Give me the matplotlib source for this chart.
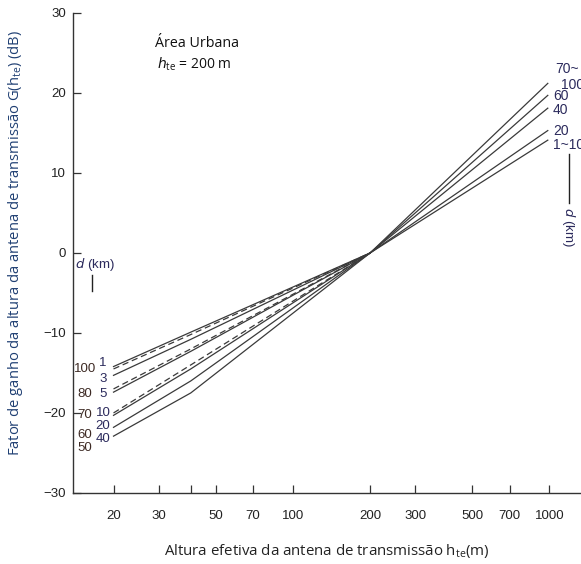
import matplotlib
matplotlib.use("Agg")
import matplotlib.pyplot as plt
import matplotlib.ticker as mticker

# h_te (m) at the knots of each curve
h_left = [20, 40, 200]
h_right = [200, 985]

# left half, solid curves, gain in dB at h_left
d_solid = ["1", "3", "5", "10", "20", "40"]
g_solid = [
    [-14.2, -9.9, 0],
    [-15.3, -10.8, 0],
    [-17.4, -12.3, 0],
    [-20.3, -14.5, 0],
    [-21.8, -16.0, 0],
    [-22.9, -17.5, 0],
]
# left half, dashed curves
d_dash = ["100", "80", "70"]
g_dash = [
    [-14.5, -10.2, 0],
    [-17.0, -12.0, 0],
    [-20.0, -14.0, 0],
]
# right half
d_right = ["1~10", "20", "40", "60", "70~100"]
g_right = [
    [0, 14.1],
    [0, 15.3],
    [0, 18.1],
    [0, 19.7],
    [0, 21.2],
]

xticks = [20, 30, 40, 50, 70, 100, 200, 300, 500, 700, 1000]
xticklabels = ["20", "30", "", "50", "70", "100", "200", "300", "500", "700", "1000"]
yticks = [-30, -20, -10, 0, 10, 20, 30]

fig = plt.figure(figsize=(5.81, 5.64), dpi=100)
ax = fig.add_axes([0.1256, 0.126, 0.8744, 0.851])

lc = "#3a3a3a"
for g in g_solid:
    ax.plot(h_left, g, color=lc, lw=0.9)
for g in g_dash:
    ax.plot(h_left, g, color=lc, lw=0.9, ls=(0, (5, 3)))
for g in g_right:
    ax.plot(h_right, g, color=lc, lw=0.9)

ax.set_xscale("log")
ax.set_xlim(13.9, 1327)
ax.set_ylim(-30, 30)
ax.set_xticks(xticks)
ax.set_xticklabels(xticklabels)
ax.xaxis.set_minor_locator(mticker.NullLocator())
ax.set_yticks(yticks)
ax.set_yticklabels([str(v).replace("-", "\u2212") for v in yticks])

for s in ["top", "right"]:
    ax.spines[s].set_visible(False)
for s in ["left", "bottom"]:
    ax.spines[s].set_color("#333333")
    ax.spines[s].set_linewidth(1.0)

tfont = ["Liberation Sans Narrow", "Liberation Sans"]
ax.tick_params(direction="in", length=6, width=0.9, color="#333333",
               labelsize=9.5, labelcolor="#222222")
ax.tick_params(axis="x", pad=12)
ax.tick_params(axis="y", pad=5)
for lab in ax.get_xticklabels() + ax.get_yticklabels():
    lab.set_fontfamily(tfont)

ax.set_ylabel("Fator de ganho da altura da antena de transmissão G(h$_{\\mathregular{te}}$) (dB)",
              fontsize=10.6, color="#1f3f73", fontfamily="Open Sans")
ax.yaxis.set_label_coords(-0.094, 0.52)
ax.set_xlabel("Altura efetiva da antena de transmissão h$_{\\mathregular{te}}$(m)",
              fontsize=10.8, color="#222222", fontfamily="Open Sans", labelpad=15)

ax.text(29.1, 26.2, "Área Urbana", fontsize=10.3, fontfamily="Open Sans", color="#111111",
        va="center")
ax.text(29.5, 23.6, "$h_{\\mathregular{te}}$ = 200 m", fontsize=10, fontfamily="Open Sans",
        color="#111111", va="center")

# curve labels, left side
nc = "#2b2a5c"
bc = "#3d2a24"
tr = ax.get_yaxis_transform()
for lab, y in zip(["1", "3", "5", "10", "20", "40"], [-13.8, -15.7, -17.6, -20.0, -21.6, -23.3]):
    ax.text(0.059, y, lab, transform=tr, fontsize=9.5, color=nc, fontfamily=tfont,
            va="center", ha="center")
for lab, y in zip(["100", "80", "70", "60", "50"], [-14.5, -17.6, -20.2, -22.7, -24.4]):
    ax.text(0.0236, y, lab, transform=tr, fontsize=9.5, color=bc, fontfamily=tfont,
            va="center", ha="center")
ax.text(0.004, -1.4, "$d$ (km)", transform=tr, fontsize=9.5, color=nc, fontfamily=tfont,
        va="center", ha="left")
ax.plot([0.037, 0.037], [-2.8, -4.8], transform=tr, color="#222222", lw=1.0, clip_on=False)

# curve labels, right side
for lab, y in zip(["1~10", "20", "40", "60"], [13.5, 15.3, 17.9, 19.6]):
    ax.text(1033, y, lab, fontsize=10, color=nc, fontfamily=tfont, va="center", ha="left")
ax.text(1053, 23.0, "70~", fontsize=10, color=nc, fontfamily=tfont, va="center", ha="left")
ax.text(1110, 21.0, "100", fontsize=10, color=nc, fontfamily=tfont, va="center", ha="left")
ax.plot([1191, 1191], [12.4, 6.2], color="#222222", lw=1.0, clip_on=False)
ax.text(1191, 3.3, "$d$ (km)", fontsize=9.5, color=nc, fontfamily=tfont, rotation=-90,
        va="center", ha="center")

fig.savefig("out.png", dpi=100)
